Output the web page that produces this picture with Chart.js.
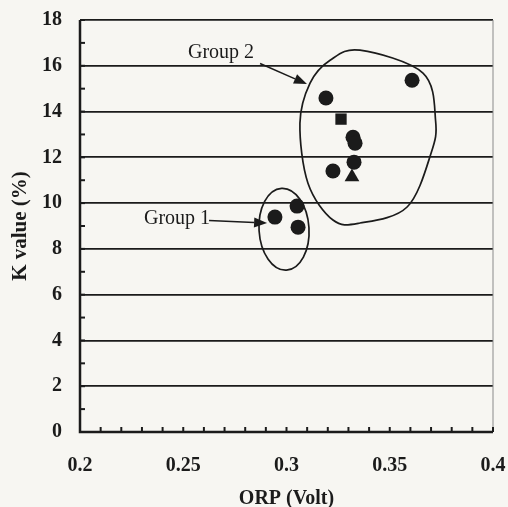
<!DOCTYPE html>
<html>
<head>
<meta charset="utf-8">
<script src="https://cdn.jsdelivr.net/npm/chart.js@4.4.0/dist/chart.umd.min.js"></script>
<style>
    html, body { margin: 0; padding: 0; background: #f7f6f2; }
    #wrap { width: 508px; height: 507px; }
</style>
</head>
<body>
<div id="wrap"><canvas id="chartCanvas" width="508" height="507"></canvas></div>
<script>
// ORP (Volt) vs K value (%)
const circleX = [0.3608, 0.3191, 0.3322, 0.3332, 0.3327, 0.3225, 0.2944, 0.3051, 0.3056];
const circleY = [15.37, 14.59, 12.88, 12.62, 11.79, 11.40, 9.39, 9.87, 8.95];
const squareX = [0.3264];
const squareY = [13.67];
const triangleX = [0.3317];
const triangleY = [11.14];

const xTickLabels = ['0.2', '0.25', '0.3', '0.35', '0.4'];
const yTickLabels = ['0', '2', '4', '6', '8', '10', '12', '14', '16', '18'];

// outline of group 2, in data units
const group2OutlineX = [0.3356, 0.3661, 0.3722, 0.3700, 0.3584, 0.3356, 0.3225, 0.3104, 0.3065, 0.3114, 0.3211];
const group2OutlineY = [16.68, 15.68, 13.60, 12.18, 9.83, 9.13, 9.26, 10.87, 13.49, 15.24, 16.24];

const INK = '#1b1b1b';
const SERIF = '"Liberation Serif", "DejaVu Serif", serif';

function toPoints(xs, ys) {
    return xs.map((x, i) => ({ x: x, y: ys[i] }));
}

const annotations = {
    group1: { cx: 0.2988, cy: 8.86, rx: 0.0121, ry: 1.79 },
    labels: [
        { text: 'Group 2', x: 0.2683, y: 16.55, fromX: 0.2872, fromY: 16.10, toX: 0.3099, toY: 15.2 },
        { text: 'Group 1', x: 0.2470, y: 9.30, fromX: 0.2625, fromY: 9.24, toX: 0.2906, toY: 9.13 }
    ]
};

const figurePlugin = {
    id: 'figure',
    afterDraw(chart) {
        const ctx = chart.ctx;
        const xs = chart.scales.x;
        const ys = chart.scales.y;
        const area = chart.chartArea;
        ctx.save();

        // right border
        ctx.strokeStyle = '#8a8a8a';
        ctx.lineWidth = 1;
        ctx.beginPath();
        ctx.moveTo(area.right, area.top);
        ctx.lineTo(area.right, area.bottom);
        ctx.stroke();

        // inward tick marks
        ctx.strokeStyle = INK;
        ctx.lineWidth = 2;
        xs.ticks.forEach(t => {
            const px = xs.getPixelForValue(t.value);
            ctx.beginPath();
            ctx.moveTo(px, area.bottom);
            ctx.lineTo(px, area.bottom - 5);
            ctx.stroke();
        });
        ys.ticks.forEach(t => {
            const py = ys.getPixelForValue(t.value);
            ctx.beginPath();
            ctx.moveTo(area.left, py);
            ctx.lineTo(area.left + 5, py);
            ctx.stroke();
        });

        // axis lines
        ctx.lineWidth = 2.5;
        ctx.beginPath();
        ctx.moveTo(area.left, area.top);
        ctx.lineTo(area.left, area.bottom);
        ctx.lineTo(area.right, area.bottom);
        ctx.stroke();

        // group 1 ellipse
        const g = annotations.group1;
        const ecx = xs.getPixelForValue(g.cx);
        const ecy = ys.getPixelForValue(g.cy);
        const erx = Math.abs(xs.getPixelForValue(g.cx + g.rx) - ecx);
        const ery = Math.abs(ys.getPixelForValue(g.cy + g.ry) - ecy);
        ctx.lineWidth = 1.7;
        ctx.beginPath();
        ctx.ellipse(ecx, ecy, erx, ery, -0.06, 0, Math.PI * 2);
        ctx.stroke();

        // group 2 closed smooth outline (catmull-rom)
        const pts = group2OutlineX.map((x, i) => [xs.getPixelForValue(x), ys.getPixelForValue(group2OutlineY[i])]);
        const n = pts.length;
        ctx.beginPath();
        ctx.moveTo(pts[0][0], pts[0][1]);
        for (let i = 0; i < n; i++) {
            const p0 = pts[(i - 1 + n) % n];
            const p1 = pts[i];
            const p2 = pts[(i + 1) % n];
            const p3 = pts[(i + 2) % n];
            ctx.bezierCurveTo(
                p1[0] + (p2[0] - p0[0]) / 6, p1[1] + (p2[1] - p0[1]) / 6,
                p2[0] - (p3[0] - p1[0]) / 6, p2[1] - (p3[1] - p1[1]) / 6,
                p2[0], p2[1]
            );
        }
        ctx.closePath();
        ctx.stroke();

        // labels and arrows
        ctx.fillStyle = INK;
        ctx.font = '20px ' + SERIF;
        ctx.textAlign = 'center';
        ctx.textBaseline = 'middle';
        annotations.labels.forEach(l => {
            ctx.fillText(l.text, xs.getPixelForValue(l.x), ys.getPixelForValue(l.y));
            const x1 = xs.getPixelForValue(l.fromX), y1 = ys.getPixelForValue(l.fromY);
            const x2 = xs.getPixelForValue(l.toX), y2 = ys.getPixelForValue(l.toY);
            const ang = Math.atan2(y2 - y1, x2 - x1);
            const head = 13, wing = 5;
            ctx.lineWidth = 1.6;
            ctx.beginPath();
            ctx.moveTo(x1, y1);
            ctx.lineTo(x2 - head * Math.cos(ang), y2 - head * Math.sin(ang));
            ctx.stroke();
            ctx.beginPath();
            ctx.moveTo(x2, y2);
            ctx.lineTo(x2 - head * Math.cos(ang) + wing * Math.sin(ang), y2 - head * Math.sin(ang) - wing * Math.cos(ang));
            ctx.lineTo(x2 - head * Math.cos(ang) - wing * Math.sin(ang), y2 - head * Math.sin(ang) + wing * Math.cos(ang));
            ctx.closePath();
            ctx.fill();
        });

        ctx.restore();
    }
};

const markerStyle = {
    backgroundColor: INK,
    borderColor: INK,
    borderWidth: 0
};

const ctx = document.getElementById('chartCanvas').getContext('2d');
const chart = new Chart(ctx, {
    type: 'scatter',
    data: {
        datasets: [
            Object.assign({ label: 'circle', data: toPoints(circleX, circleY), pointStyle: 'circle', pointRadius: 7.5 }, markerStyle),
            Object.assign({ label: 'square', data: toPoints(squareX, squareY), pointStyle: 'rect', pointRadius: 8 }, markerStyle),
            Object.assign({ label: 'triangle', data: toPoints(triangleX, triangleY), pointStyle: 'triangle', pointRadius: 8.5 }, markerStyle)
        ]
    },
    options: {
        responsive: false,
        animation: false,
        events: [],
        layout: { padding: { top: 20, right: 15, left: 0, bottom: 0 } },
        plugins: {
            legend: { display: false },
            tooltip: { enabled: false }
        },
        scales: {
            x: {
                type: 'linear',
                min: 0.2,
                max: 0.4,
                border: { display: false },
                grid: { display: false, drawTicks: false },
                ticks: {
                    stepSize: 0.01,
                    autoSkip: false,
                    maxRotation: 0,
                    padding: 22,
                    color: INK,
                    font: { family: SERIF, size: 20, weight: 'bold' },
                    callback: function (value) {
                        const k = Math.round(value * 100);
                        return k % 5 === 0 ? xTickLabels[(k - 20) / 5] : '';
                    }
                },
                title: {
                    display: true,
                    text: 'ORP (Volt)',
                    color: INK,
                    font: { family: SERIF, size: 20, weight: 'bold' },
                    padding: { top: 14, bottom: -4 }
                },
                afterFit: scale => {
                    scale.height = 75;
                    scale.paddingLeft = 0;
                    scale.paddingRight = 0;
                }
            },
            y: {
                type: 'linear',
                min: 0,
                max: 18,
                border: { display: false },
                grid: {
                    drawTicks: false,
                    lineWidth: 1.8,
                    color: c => (Math.round(c.tick.value) % 2 === 0 ? INK : 'rgba(0,0,0,0)')
                },
                ticks: {
                    stepSize: 1,
                    autoSkip: false,
                    padding: 18,
                    color: INK,
                    font: { family: SERIF, size: 20, weight: 'bold' },
                    callback: function (value) {
                        const k = Math.round(value);
                        return k % 2 === 0 ? yTickLabels[k / 2] : '';
                    }
                },
                title: {
                    display: true,
                    text: 'K value (%)',
                    color: INK,
                    font: { family: SERIF, size: 21, weight: 'bold' },
                    padding: { top: 8, bottom: 0 }
                },
                afterFit: scale => {
                    scale.width = 80;
                    scale.paddingTop = 0;
                    scale.paddingBottom = 0;
                }
            }
        }
    },
    plugins: [figurePlugin]
});
</script>
</body>
</html>
